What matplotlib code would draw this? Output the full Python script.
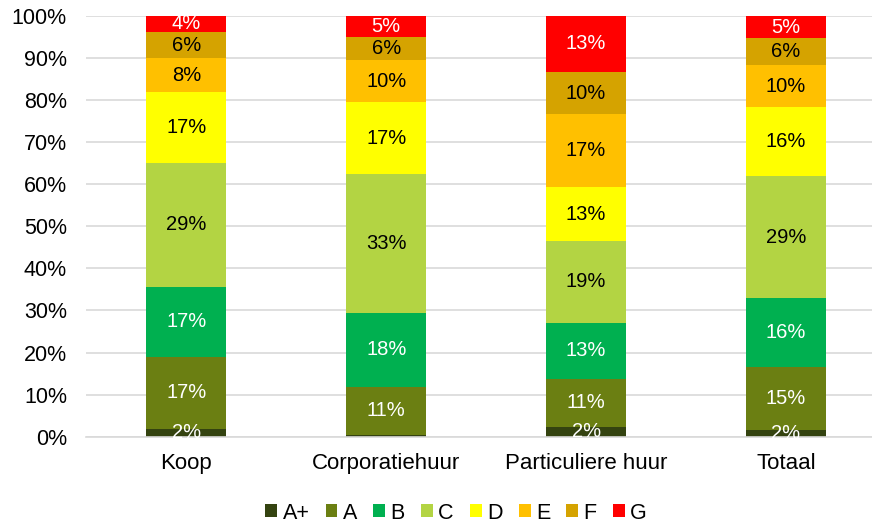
import numpy as np
import matplotlib.pyplot as plt
from matplotlib.ticker import PercentFormatter

plt.rcParams['font.family'] = ['Liberation Sans', 'DejaVu Sans']

categories = ['Koop', 'Corporatiehuur', 'Particuliere huur', 'Totaal']
labels = ['A+', 'A', 'B', 'C', 'D', 'E', 'F', 'G']
colors = ['#344310', '#6B7F12', '#00B050', '#B3D443', '#FFFF00', '#FFC000', '#D5A300', '#FF0000']
text_colors = ['white', 'white', 'white', 'black', 'black', 'black', 'black', 'white']

# percentages per label (A+ .. G), per category
koop = [1.9, 17.1, 16.6, 29.4, 16.9, 8.0, 6.2, 3.9]
corporatie = [0.5, 11.4, 17.6, 32.8, 17.1, 10.1, 5.5, 5.0]
particulier = [2.4, 11.4, 13.3, 19.3, 12.8, 17.4, 10.0, 13.4]
totaal = [1.7, 14.8, 16.4, 29.0, 16.4, 9.9, 6.4, 5.4]

data = np.array([koop, corporatie, particulier, totaal]).T

fig, ax = plt.subplots(figsize=(8.72, 5.23), dpi=100)
fig.subplots_adjust(left=0.099, right=1.0, top=0.97, bottom=0.165)

x = np.arange(len(categories))
bottom = np.zeros(len(categories))
for i, lab in enumerate(labels):
    bars = ax.bar(x, data[i], 0.4, bottom=bottom, color=colors[i], label=lab, zorder=2)
    for j, b in enumerate(bars):
        v = data[i][j]
        if v >= 1:
            ax.text(b.get_x() + b.get_width() / 2, bottom[j] + v / 2, f'{v:.0f}%',
                    ha='center', va='center', fontsize=14.5, color=text_colors[i], zorder=3)
    bottom += data[i]

ax.set_ylim(0, 100)
ax.set_xlim(-0.5, 3.43)
ax.set_yticks(np.arange(0, 101, 10))
ax.yaxis.set_major_formatter(PercentFormatter(decimals=0))
ax.set_xticks(x)
ax.set_xticklabels(categories)
ax.tick_params(axis='both', length=0, labelsize=15.5, colors='black')
ax.tick_params(axis='x', pad=12, labelsize=16)
ax.tick_params(axis='y', pad=14)
ax.grid(axis='y', color='#D9D9D9', linewidth=1.2, zorder=0)
for s in ['top', 'right', 'left']:
    ax.spines[s].set_visible(False)
ax.spines['bottom'].set_color('#D9D9D9')
ax.spines['bottom'].set_linewidth(1.2)

fig.legend(loc='center', bbox_to_anchor=(0.523, 0.019), ncol=8, frameon=False,
           fontsize=15.5, handlelength=0.55, handleheight=0.55, handletextpad=0.25,
           columnspacing=0.75, borderpad=0)

fig.savefig('out.png')
